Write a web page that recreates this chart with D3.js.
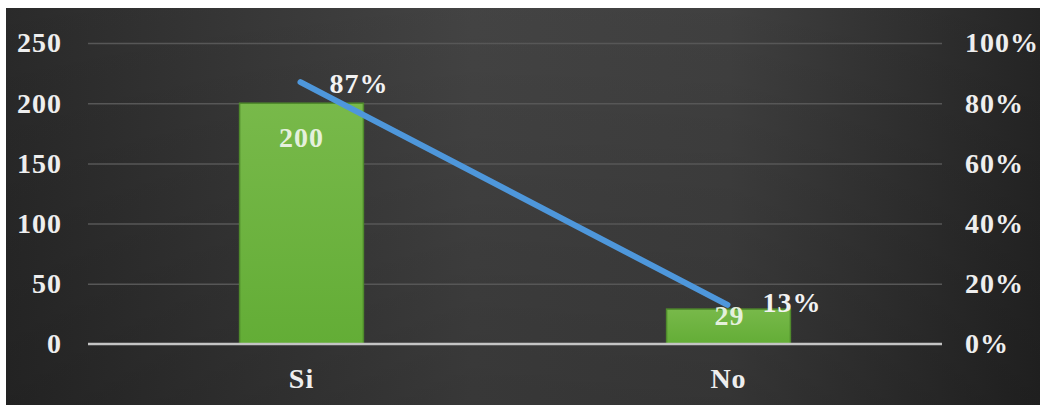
<!DOCTYPE html>
<html>
<head>
<meta charset="utf-8">
<script src="https://cdn.jsdelivr.net/npm/d3@7"></script>
<style>
  html, body { margin: 0; padding: 0; background: #ffffff; }
  svg { display: block; }
  text { font-family: "Liberation Serif", "Times New Roman", serif; font-weight: bold; }
</style>
</head>
<body>
<svg id="chart" width="1042" height="405"></svg>
<script>
// Answers and their counts, with the share of each answer
const categories = ["Si", "No"];
const counts = [200, 29];
const shares = [0.87, 0.13];
const countTicks = [0, 50, 100, 150, 200, 250];
const shareTicks = [0, 0.2, 0.4, 0.6, 0.8, 1.0];

const svg = d3.select("#chart");
const W = 1042, H = 405;
const plot = { left: 88, right: 942, top: 43, bottom: 344 };

// Dark panel with a soft light centre
const defs = svg.append("defs");
const bg = defs.append("linearGradient").attr("id", "bgGrad")
  .attr("x1", "0").attr("x2", "1").attr("y1", "0").attr("y2", "0");
bg.append("stop").attr("offset", "0%").attr("stop-color", "#2c2c2c");
bg.append("stop").attr("offset", "45%").attr("stop-color", "#474747");
bg.append("stop").attr("offset", "70%").attr("stop-color", "#434343");
bg.append("stop").attr("offset", "100%").attr("stop-color", "#272727");

const shade = defs.append("linearGradient").attr("id", "shadeGrad")
  .attr("x1", "0").attr("x2", "0").attr("y1", "0").attr("y2", "1");
shade.append("stop").attr("offset", "0%").attr("stop-color", "#000").attr("stop-opacity", 0.05);
shade.append("stop").attr("offset", "100%").attr("stop-color", "#000").attr("stop-opacity", 0.22);

const barGrad = defs.append("linearGradient").attr("id", "barGrad")
  .attr("x1", "0").attr("x2", "0").attr("y1", "0").attr("y2", "1");
barGrad.append("stop").attr("offset", "0%").attr("stop-color", "#78b94a");
barGrad.append("stop").attr("offset", "100%").attr("stop-color", "#63ad36");

svg.append("rect").attr("x", 6).attr("y", 8).attr("width", 1034).attr("height", H - 8)
  .attr("fill", "url(#bgGrad)");
svg.append("rect").attr("x", 6).attr("y", 8).attr("width", 1034).attr("height", H - 8)
  .attr("fill", "url(#shadeGrad)");

// Scales
const x = d3.scaleBand().domain(categories).range([plot.left, plot.right])
  .paddingInner(0.71).paddingOuter(0.355);
const yCount = d3.scaleLinear().domain([0, 250]).range([plot.bottom, plot.top]);
const yShare = d3.scaleLinear().domain([0, 1]).range([plot.bottom, plot.top]);

// Gridlines
svg.append("g").attr("transform", `translate(${plot.left},0)`)
  .call(d3.axisLeft(yCount).tickValues(countTicks.filter(d => d > 0))
    .tickSize(-(plot.right - plot.left)).tickFormat(""))
  .call(g => g.select(".domain").remove())
  .call(g => g.selectAll("line").attr("stroke", "#575757").attr("stroke-width", 1.5));

const tickText = g => g.selectAll("text").attr("fill", "#eeeeee").attr("font-size", 28)
  .attr("letter-spacing", 1)
  .attr("font-family", "Liberation Serif, serif").attr("font-weight", "bold");

// Left axis labels
svg.append("g").attr("transform", `translate(62,0)`)
  .call(d3.axisLeft(yCount).tickValues(countTicks).tickSize(0).tickPadding(0).tickFormat(d3.format("d")))
  .call(g => g.select(".domain").remove())
  .call(tickText);

// Right axis labels
svg.append("g").attr("transform", `translate(965,0)`)
  .call(d3.axisRight(yShare).tickValues(shareTicks).tickSize(0).tickPadding(0).tickFormat(d3.format(".0%")))
  .call(g => g.select(".domain").remove())
  .call(tickText);

// Bars
svg.append("g").selectAll("rect").data(categories).join("rect")
  .attr("x", d => x(d))
  .attr("y", (d, i) => yCount(counts[i]))
  .attr("width", x.bandwidth())
  .attr("height", (d, i) => yCount(0) - yCount(counts[i]))
  .attr("fill", "url(#barGrad)")
  .attr("stroke", "#4f8a2c").attr("stroke-width", 1.5);

// Baseline
svg.append("line").attr("x1", plot.left).attr("x2", plot.right)
  .attr("y1", yCount(0)).attr("y2", yCount(0))
  .attr("stroke", "#c4c4c4").attr("stroke-width", 2.5);

// Category labels
svg.append("g").selectAll("text").data(categories).join("text")
  .attr("x", d => x(d) + x.bandwidth() / 2)
  .attr("y", 378)
  .attr("text-anchor", "middle").attr("dominant-baseline", "central")
  .attr("fill", "#eeeeee").attr("font-size", 28).attr("letter-spacing", 1)
  .text(d => d);

// Share line
const linePts = categories.map((c, i) => [x(c) + x.bandwidth() / 2 - 1, yShare(shares[i])]);
svg.append("path").attr("d", d3.line()(linePts))
  .attr("fill", "none").attr("stroke", "#4e97db").attr("stroke-width", 6)
  .attr("stroke-linecap", "round");

// Count labels inside bars
const countOffsets = [34, 6];
svg.append("g").selectAll("text").data(categories).join("text")
  .attr("x", d => x(d) + x.bandwidth() / 2 + (d === "No" ? 1 : 0))
  .attr("y", (d, i) => yCount(counts[i]) + countOffsets[i])
  .attr("text-anchor", "middle").attr("dominant-baseline", "central")
  .attr("fill", "#e4f0dc").attr("font-size", 28).attr("letter-spacing", 1)
  .text((d, i) => counts[i]);

// Share labels to the right of the line points
svg.append("g").selectAll("text").data(categories).join("text")
  .attr("x", (d, i) => linePts[i][0] + (i === 0 ? 29 : 35))
  .attr("y", (d, i) => linePts[i][1] + (i === 0 ? 1 : -2))
  .attr("dominant-baseline", "central")
  .attr("fill", "#f2f2f2").attr("font-size", 28).attr("letter-spacing", 1)
  .text((d, i) => d3.format(".0%")(shares[i]));
</script>
</body>
</html>
